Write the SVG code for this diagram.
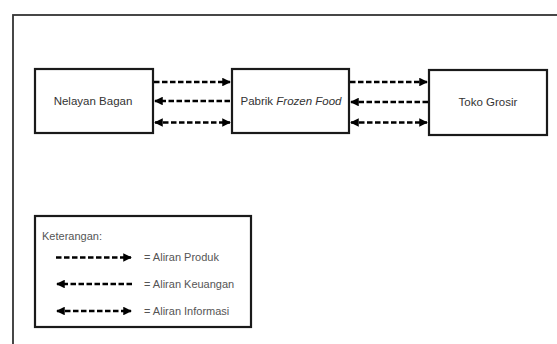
<svg xmlns="http://www.w3.org/2000/svg" width="557" height="344" viewBox="0 0 557 344">
<defs>
<marker id="ah" viewBox="0 0 10 10" refX="9" refY="5" markerWidth="3.6" markerHeight="3.6" orient="auto-start-reverse" markerUnits="strokeWidth">
<path d="M0,0 L10,5 L0,10 z" fill="#000"/>
</marker>
<style>
.box{fill:#fff;stroke:#1a1a1a;stroke-width:2.2}
.lbl{font-family:"Liberation Sans",Arial,sans-serif;font-size:11.5px;fill:#333;text-anchor:middle}
.leg{font-family:"Liberation Sans",Arial,sans-serif;font-size:11px;fill:#555}
.ar{stroke:#000;stroke-width:2.4;stroke-dasharray:5.5 2.5;fill:none}
</style>
</defs>
<rect width="557" height="344" fill="#fff"/>
<rect x="13" y="15" width="600" height="400" fill="none" stroke="#333" stroke-width="1.8"/>
<g id="nelayan">
<rect class="box" x="35" y="69" width="118" height="64"/>
<text class="lbl" x="93" y="105">Nelayan Bagan</text>
</g>
<g id="pabrik">
<rect class="box" x="232" y="69" width="117" height="64"/>
<text class="lbl" x="291" y="105">Pabrik <tspan font-style="italic">Frozen Food</tspan></text>
</g>
<g id="toko">
<rect class="box" x="429" y="70" width="118" height="65"/>
<text class="lbl" x="488" y="106">Toko Grosir</text>
</g>
<g id="connectors">
<line class="ar" x1="154" y1="82" x2="230" y2="82" marker-end="url(#ah)"/>
<line class="ar" x1="230" y1="101" x2="155" y2="101" marker-end="url(#ah)"/>
<line class="ar" x1="155" y1="122.5" x2="230" y2="122.5" marker-start="url(#ah)" marker-end="url(#ah)"/>
<line class="ar" x1="350" y1="82" x2="427" y2="82" marker-end="url(#ah)"/>
<line class="ar" x1="428" y1="102" x2="351" y2="102" marker-end="url(#ah)"/>
<line class="ar" x1="351" y1="122.5" x2="427" y2="122.5" marker-start="url(#ah)" marker-end="url(#ah)"/>
</g>
<g id="legend">
<rect class="box" x="35" y="216" width="216" height="111" stroke-width="2"/>
<text class="leg" x="42" y="240" fill="#333" font-size="11.5">Keterangan:</text>
<line class="ar" x1="56" y1="257.5" x2="131" y2="257.5" marker-end="url(#ah)"/>
<line class="ar" x1="132" y1="284" x2="57" y2="284" marker-end="url(#ah)"/>
<line class="ar" x1="57" y1="311" x2="131" y2="311" marker-start="url(#ah)" marker-end="url(#ah)"/>
<text class="leg" x="144" y="261">= Aliran Produk</text>
<text class="leg" x="144" y="288">= Aliran Keuangan</text>
<text class="leg" x="144" y="315">= Aliran Informasi</text>
</g>
</svg>
